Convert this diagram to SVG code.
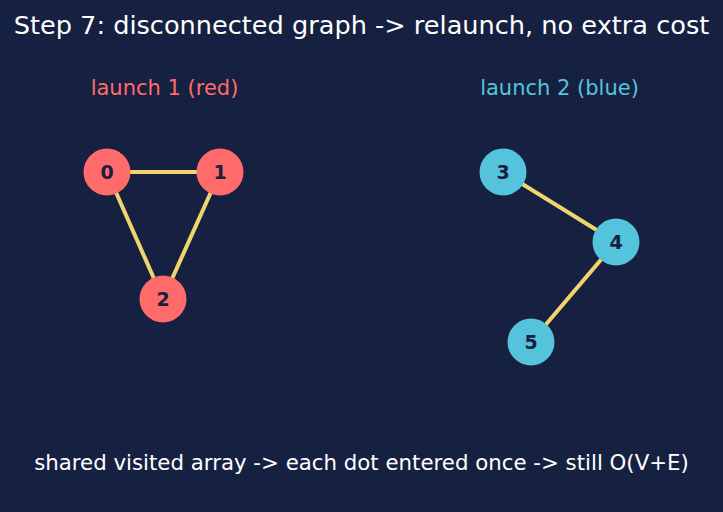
<svg xmlns="http://www.w3.org/2000/svg" width="723" height="512" viewBox="0 0 723 512">
<style>
.t{font-family:"DejaVu Sans",sans-serif;text-anchor:middle}
.e{stroke:#f2d46e;stroke-width:4;fill:none}
.r{fill:#ff6b6b}
.b{fill:#56c3dd}
.n{font-family:"DejaVu Sans",sans-serif;font-weight:bold;font-size:19px;fill:#172040;text-anchor:middle}
</style>
<rect width="723" height="512" fill="#162040"/>
<text class="t" x="361.5" y="34" font-size="25.6" fill="#ffffff">Step 7: disconnected graph -&gt; relaunch, no extra cost</text>
<text class="t" x="164.5" y="95" font-size="21" fill="#ff6b6b">launch 1 (red)</text>
<text class="t" x="559.5" y="95" font-size="21" fill="#56c3dd">launch 2 (blue)</text>
<g id="edges">
<line class="e" x1="107" y1="172" x2="220" y2="172"/>
<line class="e" x1="107" y1="172" x2="163" y2="299"/>
<line class="e" x1="220" y1="172" x2="163" y2="299"/>
<line class="e" x1="503" y1="172" x2="616" y2="242"/>
<line class="e" x1="616" y1="242" x2="531" y2="342"/>
</g>
<g id="n0"><circle class="r" cx="107" cy="172" r="23.5"/><text class="n" x="107" y="179">0</text></g>
<g id="n1"><circle class="r" cx="220" cy="172" r="23.5"/><text class="n" x="220" y="179">1</text></g>
<g id="n2"><circle class="r" cx="163" cy="299" r="23.5"/><text class="n" x="163" y="306">2</text></g>
<g id="n3"><circle class="b" cx="503" cy="172" r="23.5"/><text class="n" x="503" y="179">3</text></g>
<g id="n4"><circle class="b" cx="616" cy="242" r="23.5"/><text class="n" x="616" y="249">4</text></g>
<g id="n5"><circle class="b" cx="531" cy="342" r="23.5"/><text class="n" x="531" y="349">5</text></g>
<text class="t" x="361.5" y="470" font-size="21.3" fill="#ffffff">shared visited array -&gt; each dot entered once -&gt; still O(V+E)</text>
</svg>
